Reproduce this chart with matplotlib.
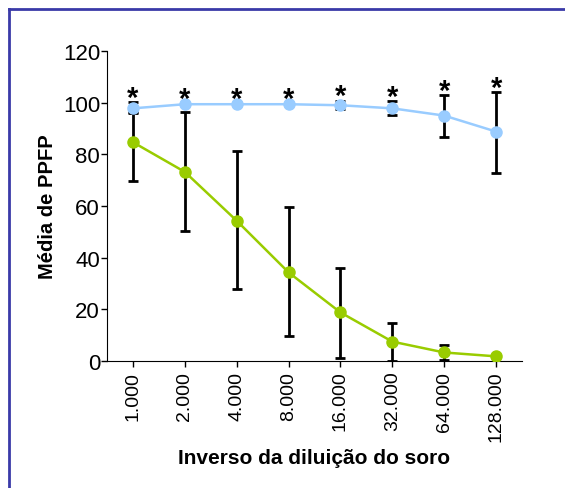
import matplotlib.pyplot as plt
import numpy as np

plt.rcParams['font.family'] = ['Liberation Sans', 'DejaVu Sans']

# data
diluicoes = ['1.000', '2.000', '4.000', '8.000', '16.000', '32.000', '64.000', '128.000']
azul_media = [97.8, 99.4, 99.4, 99.4, 99.0, 97.8, 95.0, 88.8]
azul_sup = [100.1, 99.8, 99.8, 99.8, 100.8, 100.5, 103.0, 104.1]
azul_inf = [96.0, 99.0, 99.0, 99.0, 97.5, 95.4, 86.8, 72.7]
verde_media = [84.7, 73.2, 54.3, 34.3, 18.8, 7.5, 3.3, 1.8]
verde_sup = [96.3, 96.3, 81.3, 59.5, 35.9, 14.8, 6.3, 2.2]
verde_inf = [69.6, 50.2, 28.0, 9.7, 1.2, 0.0, 0.5, 1.4]

azul = '#99ccff'
verde = '#99cc00'

fig = plt.figure(figsize=(5.65, 4.89), dpi=100)
ax = fig.add_axes([107 / 565, 1 - 362 / 489, (522 - 107) / 565, (362 - 52) / 489])

x = np.arange(len(diluicoes))

def desenha(media, sup, inf, cor):
    media = np.array(media)
    erro = [media - np.array(inf), np.array(sup) - media]
    ax.errorbar(x, media, yerr=erro, fmt='none', ecolor='black', elinewidth=2,
                capsize=3.5, capthick=2, zorder=2)
    ax.plot(x, media, '-o', color=cor, markersize=8, linewidth=1.8, zorder=3)

desenha(verde_media, verde_sup, verde_inf, verde)
desenha(azul_media, azul_sup, azul_inf, azul)

for xi, top in zip(x, azul_sup):
    ax.text(xi, top - 3.8, '*', ha='center', va='bottom', fontsize=21,
            fontweight='bold', zorder=4)

ax.set_ylim(0, 120)
ax.set_yticks(range(0, 121, 20))
ax.set_xlim(-0.5, 7.5)
ax.set_xticks(x)
ax.set_xticklabels(diluicoes, rotation=90, fontsize=14)
ax.tick_params(axis='y', labelsize=16, length=4, width=1, pad=1)
ax.tick_params(axis='x', length=4, width=1, pad=3)
for s in ['top', 'right']:
    ax.spines[s].set_visible(False)
ax.spines['left'].set_bounds(0, 120)

ax.set_ylabel('Média de PPFP', fontsize=14.5, fontweight='bold', labelpad=4)
ax.set_xlabel('Inverso da diluição do soro', fontsize=15, fontweight='bold', labelpad=5)

# moldura azul
borda = '#3a3aa8'
fig.add_artist(plt.Line2D([8.5 / 565, 8.5 / 565], [0, 1 - 10 / 489], color=borda, lw=2,
                          transform=fig.transFigure))
fig.add_artist(plt.Line2D([8.5 / 565, 1], [1 - 10 / 489, 1 - 10 / 489], color=borda, lw=2,
                          transform=fig.transFigure))

fig.savefig('out.png', dpi=100)
